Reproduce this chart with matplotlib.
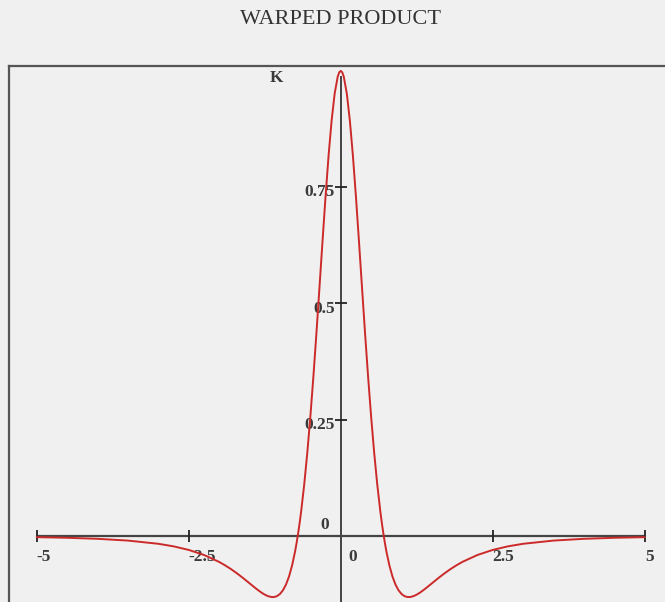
import matplotlib
matplotlib.use("Agg")
import matplotlib.pyplot as plt
from matplotlib.lines import Line2D

# Values
x_vals = [-5.0, -4.5, -4.0, -3.5, -3.0, -2.75, -2.5, -2.25, -2.0, -1.9, -1.8, -1.7,
          -1.6, -1.5, -1.4, -1.35, -1.3, -1.25, -1.2, -1.15, -1.1, -1.05, -1.0,
          -0.95, -0.9, -0.85, -0.8, -0.75, -0.725, -0.7, -0.675, -0.65, -0.6,
          -0.55, -0.5, -0.45, -0.4, -0.35, -0.3, -0.25, -0.2, -0.15, -0.1, -0.05,
          -0.025, 0.0,
          0.025, 0.05, 0.1, 0.15, 0.2, 0.25, 0.3, 0.35, 0.4, 0.45, 0.5, 0.55, 0.6,
          0.65, 0.675, 0.7, 0.725, 0.75, 0.8, 0.85, 0.9, 0.95, 1.0, 1.05, 1.1,
          1.15, 1.2, 1.25, 1.3, 1.35, 1.4, 1.5, 1.6, 1.7, 1.8, 1.9, 2.0, 2.25,
          2.5, 2.75, 3.0, 3.5, 4.0, 4.5, 5.0]
k_vals = [-0.0028, -0.0041, -0.0063, -0.0101, -0.017, -0.0225, -0.0302, -0.041,
          -0.056, -0.0635, -0.0719, -0.0812, -0.0913, -0.102, -0.1126, -0.1176,
          -0.1223, -0.1263, -0.1294, -0.1313, -0.1316, -0.1297, -0.125, -0.1169,
          -0.1046, -0.0871, -0.0635, -0.0328, -0.0144, 0.006, 0.0288, 0.0538,
          0.1113, 0.1788, 0.256, 0.3422, 0.4356, 0.5338, 0.6332, 0.7295, 0.8179,
          0.8933, 0.9512, 0.9876, 0.9969, 1.0,
          0.9969, 0.9876, 0.9512, 0.8933, 0.8179, 0.7295, 0.6332, 0.5338, 0.4356,
          0.3422, 0.256, 0.1788, 0.1113, 0.0538, 0.0288, 0.006, -0.0144, -0.0328,
          -0.0635, -0.0871, -0.1046, -0.1169, -0.125, -0.1297, -0.1316, -0.1313,
          -0.1294, -0.1263, -0.1223, -0.1176, -0.1126, -0.102, -0.0913, -0.0812,
          -0.0719, -0.0635, -0.056, -0.041, -0.0302, -0.0225, -0.017, -0.0101,
          -0.0063, -0.0041, -0.0028]

x_ticks = [-5, -2.5, 2.5, 5]
x_tick_labels = ["-5", "-2.5", "2.5", "5"]
y_ticks = [0.25, 0.5, 0.75]
y_tick_labels = ["0.25", "0.5", "0.75"]
title = "WARPED PRODUCT"
y_label = "K"

W, H = 665, 602
fig = plt.figure(figsize=(W / 100, H / 100), dpi=100)
bg = "#f0f0f0"
fig.patch.set_facecolor(bg)

ax = fig.add_axes([0, 0, 1, 1])
ax.set_facecolor(bg)
ax.axis("off")
ax.set_xlim(-5.604, 5.333)
ax.set_ylim(-0.1422, 1.1525)

axis_col = "#444444"
# coordinate axes
ax.hlines(0, -5, 5, color=axis_col, lw=1.6, zorder=2)
ax.vlines(0, -0.1422, 0.99, color=axis_col, lw=1.4, zorder=2)

# tick marks
tx = 6 / 60.8
ty = 6 / 465.0
for t in x_ticks:
    ax.vlines(t, -ty, ty, color="#222222", lw=1.3, zorder=3)
for t in y_ticks:
    ax.hlines(t, -tx, tx, color="#222222", lw=1.3, zorder=3)

serif = ["Liberation Serif", "DejaVu Serif"]
lab_kw = dict(family=serif, fontsize=12.5, color="#3a3a3a", fontweight="bold")
for t, s in zip(x_ticks, x_tick_labels):
    ax.text(t, -0.045, s, ha="left", va="center", **lab_kw)
for t, s in zip(y_ticks, y_tick_labels):
    ax.text(-0.1, t - 0.011, s, ha="right", va="center", **lab_kw)
ax.text(-0.19, 0.024, "0", ha="right", va="center", **lab_kw)
ax.text(0.12, -0.046, "0", ha="left", va="center", **lab_kw)
ax.text(-1.05, 0.985, y_label, ha="center", va="center", **lab_kw)

# curve
ax.plot(x_vals, k_vals, color="#cc2a2a", lw=1.4, zorder=4,
        solid_joinstyle="round", solid_capstyle="round")

# title
fig.text(341 / W, 1 - 19 / H, title, ha="center", va="center",
         family=serif, fontsize=16, color="#333333")

# outer frame (cropped box)
fr = "#555555"
fig.add_artist(Line2D([9 / W, 1.0], [1 - 66 / H, 1 - 66 / H],
                      transform=fig.transFigure, color=fr, lw=1.6))
fig.add_artist(Line2D([9 / W, 9 / W], [0.0, 1 - 66 / H],
                      transform=fig.transFigure, color=fr, lw=1.6))

fig.savefig("out.png", dpi=100, facecolor=bg)
